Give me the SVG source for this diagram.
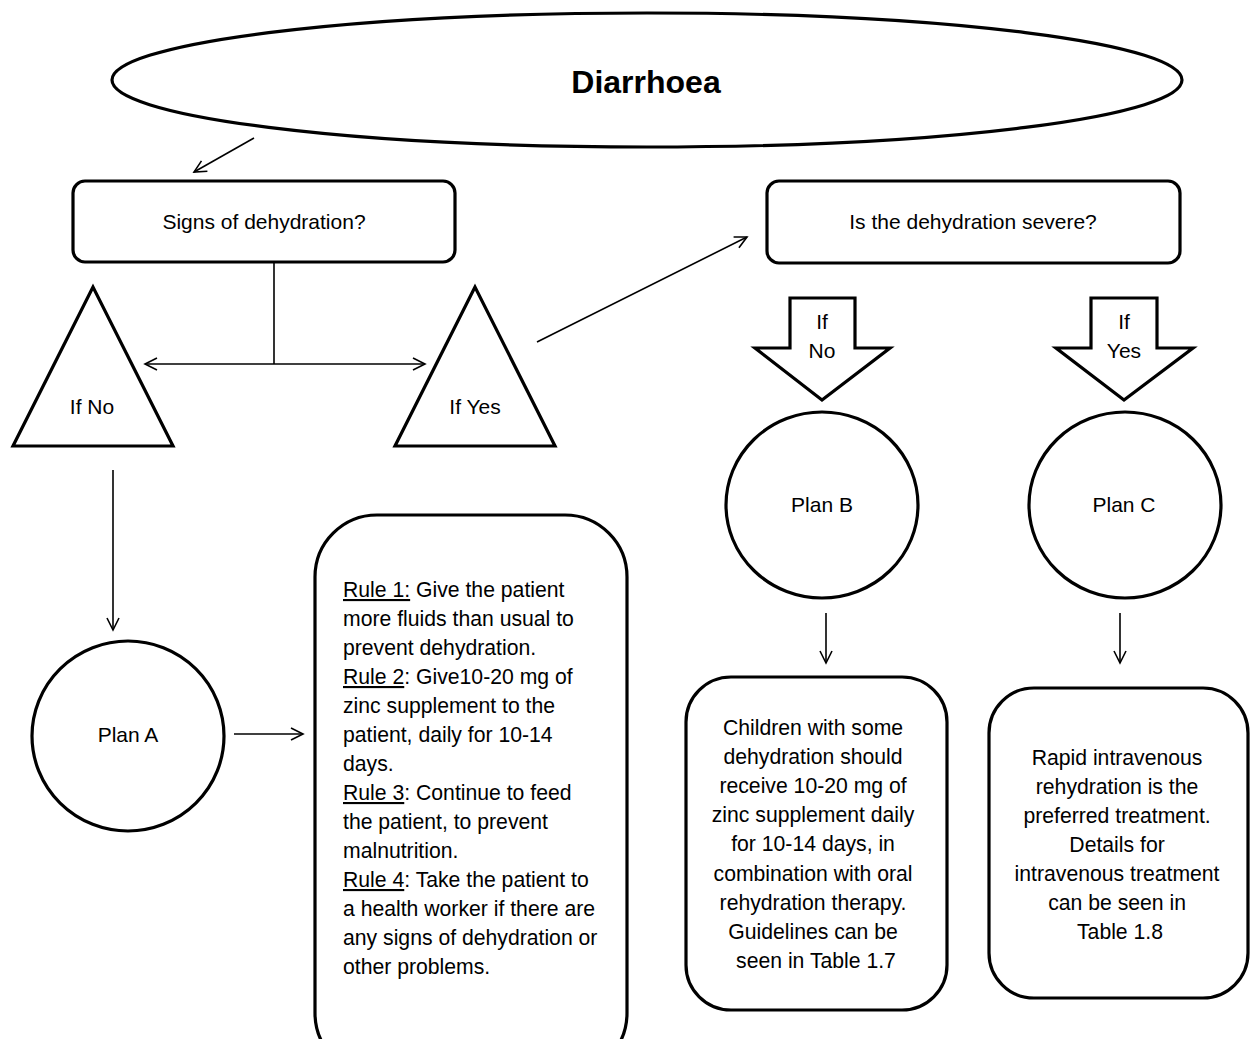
<svg xmlns="http://www.w3.org/2000/svg" width="1250" height="1039" viewBox="0 0 1250 1039">
<defs>
<style>
.shape{fill:#fff;stroke:#000;stroke-width:3.2}
.conn{fill:none;stroke:#000;stroke-width:1.6}
text{font-family:"Liberation Sans",Arial,sans-serif;fill:#000}
.lbl{font-size:21px;text-anchor:middle}
.body{font-size:21.2px}
.mid{text-anchor:middle}
.u{text-decoration:underline}
</style>
<marker id="arr" markerUnits="userSpaceOnUse" markerWidth="16" markerHeight="16" refX="13" refY="7" orient="auto-start-reverse" viewBox="0 0 16 14">
<path d="M1,1 L13,7 L1,13" fill="none" stroke="#000" stroke-width="1.6"/>
</marker>
</defs>
<rect width="1250" height="1039" fill="#fff"/>

<g id="connectors">
<line class="conn" x1="254" y1="138" x2="194" y2="172" marker-end="url(#arr)"/>
<line class="conn" x1="274" y1="263" x2="274" y2="364"/>
<line class="conn" x1="145" y1="364" x2="425" y2="364" marker-start="url(#arr)" marker-end="url(#arr)"/>
<line class="conn" x1="537" y1="342" x2="747" y2="237" marker-end="url(#arr)"/>
<line class="conn" x1="113" y1="470" x2="113" y2="630" marker-end="url(#arr)"/>
<line class="conn" x1="234" y1="734" x2="303" y2="734" marker-end="url(#arr)"/>
<line class="conn" x1="826" y1="613" x2="826" y2="663" marker-end="url(#arr)"/>
<line class="conn" x1="1120" y1="613" x2="1120" y2="663" marker-end="url(#arr)"/>
</g>

<g id="diarrhoea">
<ellipse class="shape" cx="647" cy="80" rx="535" ry="67"/>
<text x="646" y="93" font-size="32" font-weight="bold" text-anchor="middle">Diarrhoea</text>
</g>

<g id="signs">
<rect class="shape" x="73" y="181" width="382" height="81" rx="12"/>
<text class="lbl" x="264" y="229">Signs of dehydration?</text>
</g>

<g id="if-no">
<polygon class="shape" points="93,287 13,446 173,446"/>
<text class="lbl" x="92" y="414">If No</text>
</g>

<g id="if-yes">
<polygon class="shape" points="475,287 395,446 555,446"/>
<text class="lbl" x="475" y="414">If Yes</text>
</g>

<g id="severe">
<rect class="shape" x="767" y="181" width="413" height="82" rx="12"/>
<text class="lbl" x="973" y="229">Is the dehydration severe?</text>
</g>

<g id="arrow-no">
<polygon class="shape" points="790,298 855,298 855,348 890,348 822,400 755,348 790,348"/>
<text class="lbl" x="822" y="329">If</text>
<text class="lbl" x="822" y="358">No</text>
</g>

<g id="arrow-yes">
<polygon class="shape" points="1091,298 1157,298 1157,348 1193,348 1124,400 1056,348 1091,348"/>
<text class="lbl" x="1124" y="329">If</text>
<text class="lbl" x="1124" y="358">Yes</text>
</g>

<g id="plan-a">
<ellipse class="shape" cx="128" cy="736" rx="96" ry="95"/>
<text class="lbl" x="128" y="742">Plan A</text>
</g>

<g id="plan-b">
<ellipse class="shape" cx="822" cy="505" rx="96" ry="93"/>
<text class="lbl" x="822" y="512">Plan B</text>
</g>

<g id="plan-c">
<ellipse class="shape" cx="1125" cy="505" rx="96" ry="93"/>
<text class="lbl" x="1124" y="512">Plan C</text>
</g>

<g id="rules">
<rect class="shape" x="315" y="515" width="312" height="560" rx="62"/>
<text class="body">
<tspan x="343" y="597"><tspan class="u">Rule 1:</tspan> Give the patient</tspan>
<tspan x="343" y="626">more fluids than usual to</tspan>
<tspan x="343" y="655">prevent dehydration.</tspan>
<tspan x="343" y="684"><tspan class="u">Rule 2</tspan>: Give10-20 mg of</tspan>
<tspan x="343" y="713">zinc supplement to the</tspan>
<tspan x="343" y="742">patient, daily for 10-14</tspan>
<tspan x="343" y="771">days.</tspan>
<tspan x="343" y="800"><tspan class="u">Rule 3</tspan>: Continue to feed</tspan>
<tspan x="343" y="829">the patient, to prevent</tspan>
<tspan x="343" y="858">malnutrition.</tspan>
<tspan x="343" y="887"><tspan class="u">Rule 4</tspan>: Take the patient to</tspan>
<tspan x="343" y="916">a health worker if there are</tspan>
<tspan x="343" y="945">any signs of dehydration or</tspan>
<tspan x="343" y="974">other problems.</tspan>
</text>
</g>

<g id="plan-b-text">
<rect class="shape" x="686" y="677" width="261" height="333" rx="45"/>
<text class="body mid">
<tspan x="816" y="735">Children with some</tspan>
<tspan x="816" y="764">dehydration should</tspan>
<tspan x="816" y="793">receive 10-20 mg of</tspan>
<tspan x="816" y="822">zinc supplement daily</tspan>
<tspan x="816" y="851">for 10-14 days, in</tspan>
<tspan x="816" y="881">combination with oral</tspan>
<tspan x="816" y="910">rehydration therapy.</tspan>
<tspan x="816" y="939">Guidelines can be</tspan>
<tspan x="816" y="968">seen in Table 1.7</tspan>
</text>
</g>

<g id="plan-c-text">
<rect class="shape" x="989" y="688" width="259" height="310" rx="45"/>
<text class="body mid">
<tspan x="1120" y="765">Rapid intravenous</tspan>
<tspan x="1120" y="794">rehydration is the</tspan>
<tspan x="1120" y="823">preferred treatment.</tspan>
<tspan x="1120" y="852">Details for</tspan>
<tspan x="1120" y="881">intravenous treatment</tspan>
<tspan x="1120" y="910">can be seen in</tspan>
<tspan x="1120" y="939">Table 1.8</tspan>
</text>
</g>
</svg>
